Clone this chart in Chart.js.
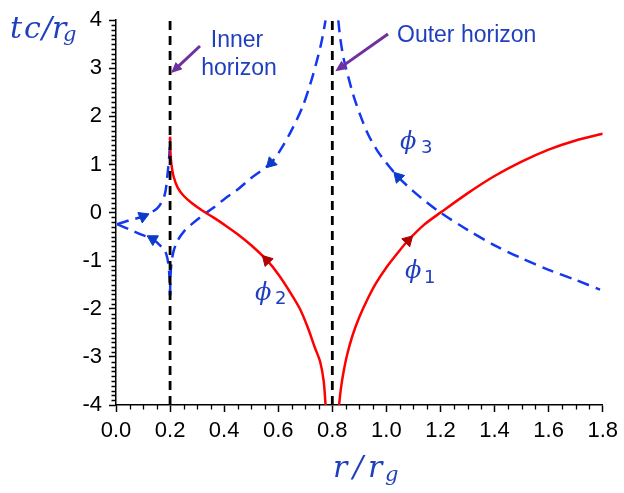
<!DOCTYPE html>
<html>
<head>
<meta charset="utf-8">
<script src="https://cdn.jsdelivr.net/npm/chart.js@4.4.0/dist/chart.umd.min.js"></script>
<style>
  html, body { margin: 0; padding: 0; background: #fff; }
</style>
</head>
<body>
<canvas id="chart" width="624" height="493"></canvas>
<script>
// tick labels
const xTicks = [0, 0.2, 0.4, 0.6, 0.8, 1.0, 1.2, 1.4, 1.6, 1.8];
const yTicks = [-4, -3, -2, -1, 0, 1, 2, 3, 4];

// horizons
const horizons = [0.2, 0.8];

// red solid curves
const phi2R = [0.2, 0.201, 0.205, 0.213, 0.228, 0.25, 0.28, 0.32, 0.36, 0.4, 0.45, 0.5, 0.558, 0.6, 0.64, 0.68, 0.71, 0.735, 0.755, 0.768, 0.775];
const phi2T = [1.58, 1.3, 1.0, 0.75, 0.52, 0.35, 0.2, 0.04, -0.1, -0.25, -0.45, -0.68, -0.99, -1.28, -1.62, -2.0, -2.4, -2.8, -3.1, -3.5, -4.0];

const phi1R = [0.825, 0.832, 0.842, 0.855, 0.875, 0.9, 0.93, 0.96, 1.0, 1.04, 1.08, 1.14, 1.2, 1.3, 1.4, 1.5, 1.6, 1.7, 1.8];
const phi1T = [-4.0, -3.65, -3.3, -2.95, -2.55, -2.17, -1.8, -1.48, -1.14, -0.85, -0.58, -0.25, 0.0, 0.4, 0.76, 1.06, 1.31, 1.5, 1.64];

// blue dashed curves
const phi3R = [0.822, 0.83, 0.842, 0.86, 0.88, 0.905, 0.933, 0.965, 1.0, 1.044, 1.1, 1.15, 1.2, 1.3, 1.4, 1.5, 1.6, 1.7, 1.79];
const phi3T = [4.0, 3.6, 3.2, 2.8, 2.4, 2.0, 1.62, 1.3, 1.03, 0.74, 0.44, 0.21, 0.0, -0.36, -0.68, -0.95, -1.19, -1.4, -1.6];

const riseR = [0.2, 0.201, 0.205, 0.213, 0.228, 0.25, 0.28, 0.32, 0.36, 0.4, 0.45, 0.5, 0.573, 0.61, 0.65, 0.69, 0.72, 0.745, 0.762, 0.775];
const riseT = [-1.72, -1.4, -1.05, -0.8, -0.58, -0.4, -0.24, -0.06, 0.1, 0.28, 0.48, 0.72, 1.03, 1.32, 1.72, 2.2, 2.7, 3.2, 3.6, 4.0];

const upperR = [0.004, 0.05, 0.1, 0.154, 0.18, 0.19, 0.197, 0.2];
const upperT = [-0.24, -0.16, -0.08, 0.10, 0.37, 0.77, 1.18, 1.55];

const lowerR = [0.004, 0.05, 0.1, 0.136, 0.18, 0.19, 0.196, 0.199, 0.2];
const lowerT = [-0.24, -0.35, -0.47, -0.55, -0.79, -0.95, -1.2, -1.5, -1.72];

// direction arrows on the curves
const blueArrowR = [0.1, 0.136, 0.573, 1.044];
const blueArrowT = [-0.08, -0.55, 1.03, 0.74];
const blueArrowRot = [67, 300, 225, 317];
const redArrowR = [0.558, 1.08];
const redArrowT = [-0.99, -0.58];
const redArrowRot = [316, 45];

const zip = (xs, ys) => xs.map((x, i) => ({x: x, y: ys[i]}));

const BLUE = '#1437f2';
const TEXTBLUE = '#1f3fbf';
const RED = '#ff0000';

function curve(xs, ys, color, dash) {
  return {
    data: zip(xs, ys),
    borderColor: color,
    borderWidth: 2.5,
    borderDash: dash || [],
    pointRadius: 0,
    fill: false,
    tension: 0.3,
    showLine: true
  };
}

const extras = {
  id: 'extras',
  afterDraw(chart) {
    const ctx = chart.ctx;
    const x = chart.scales.x, y = chart.scales.y;
    ctx.save();

    // minor ticks
    ctx.strokeStyle = '#000';
    ctx.lineWidth = 1.3;
    ctx.beginPath();
    for (let i = 1; i < 36; i++) {
      if (i % 4 === 0) continue;
      const px = Math.round(x.getPixelForValue(i * 0.05)) + 0.5;
      ctx.moveTo(px, y.bottom);
      ctx.lineTo(px, y.bottom + 4.5);
    }
    for (let i = -39; i < 40; i++) {
      if (i % 10 === 0) continue;
      const py = Math.round(y.getPixelForValue(i / 10)) + 0.5;
      ctx.moveTo(x.left - 4.5, py);
      ctx.lineTo(x.left, py);
    }
    ctx.stroke();

    // purple pointer arrows
    function pointer(x0, y0, x1, y1) {
      const a = Math.atan2(y1 - y0, x1 - x0);
      const L = 11, W = 5;
      ctx.strokeStyle = '#7030a0';
      ctx.fillStyle = '#7030a0';
      ctx.lineWidth = 3;
      ctx.beginPath();
      ctx.moveTo(x0, y0);
      ctx.lineTo(x1 - L * 0.8 * Math.cos(a), y1 - L * 0.8 * Math.sin(a));
      ctx.stroke();
      ctx.beginPath();
      ctx.moveTo(x1, y1);
      ctx.lineTo(x1 - L * Math.cos(a) + W * Math.sin(a), y1 - L * Math.sin(a) - W * Math.cos(a));
      ctx.lineTo(x1 - L * Math.cos(a) - W * Math.sin(a), y1 - L * Math.sin(a) + W * Math.cos(a));
      ctx.closePath();
      ctx.fill();
    }
    pointer(200, 46, x.getPixelForValue(0.2) + 1, y.getPixelForValue(2.9));
    pointer(388, 34, x.getPixelForValue(0.8) + 3, y.getPixelForValue(2.94));

    // horizon labels
    ctx.fillStyle = TEXTBLUE;
    ctx.font = '23px "Liberation Sans", Arial, sans-serif';
    ctx.textBaseline = 'alphabetic';
    ctx.textAlign = 'center';
    ctx.fillText('Inner', 237, 47);
    ctx.fillText('horizon', 239, 75);
    ctx.textAlign = 'left';
    ctx.fillText('Outer horizon', 397, 42);

    // math labels
    function put(txt, px, py, font) {
      ctx.font = font;
      ctx.fillText(txt, px, py);
    }
    const it = 'italic 30px "DejaVu Serif", serif';
    const sub = 'italic 21px "DejaVu Serif", serif';
    const phiF = 'italic 24px "DejaVu Serif", serif';
    const dig = '18px "DejaVu Sans", sans-serif';

    // y title tc/r_g
    put('t', 10, 38, it);
    put('c', 24, 38, it);
    put('/', 42, 38, it);
    put('r', 52, 38, it);
    put('g', 63, 41, sub);

    // x title r/r_g
    put('r', 333, 477, it);
    put('/', 353, 477, it);
    put('r', 368, 477, it);
    put('g', 385, 481, sub);

    // phi labels
    put('\u03D5', 400, 149, phiF); put('3', 421, 153, dig);
    put('\u03D5', 255, 300, phiF); put('2', 275, 304, dig);
    put('\u03D5', 405, 278, phiF); put('1', 424, 283, dig);

    ctx.restore();
  }
};

const tickFont = {family: '"Liberation Sans", Arial, sans-serif', size: 22};

new Chart(document.getElementById('chart'), {
  type: 'line',
  data: {
    datasets: [
      {
        data: zip(blueArrowR, blueArrowT),
        showLine: false,
        pointStyle: 'triangle',
        pointRadius: 6.5,
        pointRotation: blueArrowRot,
        pointBackgroundColor: '#0a3cc8',
        pointBorderColor: '#0a3cc8',
        pointBorderWidth: 1
      },
      {
        data: zip(redArrowR, redArrowT),
        showLine: false,
        pointStyle: 'triangle',
        pointRadius: 6.5,
        pointRotation: redArrowRot,
        pointBackgroundColor: '#b00000',
        pointBorderColor: '#b00000',
        pointBorderWidth: 1
      },
      Object.assign(curve([horizons[0], horizons[0]], [-4, 4], '#000', [9, 6]), {tension: 0, borderWidth: 2.8}),
      Object.assign(curve([horizons[1], horizons[1]], [-4, 4], '#000', [9, 6]), {tension: 0, borderWidth: 2.8}),
      curve(phi2R, phi2T, RED),
      curve(phi1R, phi1T, RED),
      curve(phi3R, phi3T, BLUE, [12, 7]),
      curve(riseR, riseT, BLUE, [12, 7]),
      curve(upperR, upperT, BLUE, [12, 7]),
      curve(lowerR, lowerT, BLUE, [12, 7])
    ]
  },
  options: {
    responsive: false,
    animation: false,
    devicePixelRatio: 1,
    layout: {padding: {top: 10, right: 18, left: 0, bottom: 0}},
    plugins: {legend: {display: false}, tooltip: {enabled: false}},
    scales: {
      x: {
        type: 'linear',
        min: 0,
        max: 1.8,
        afterBuildTicks: s => { s.ticks = xTicks.map(v => ({value: v})); },
        afterFit: s => { s.height = 88; },
        ticks: {
          callback: v => v.toFixed(1),
          font: tickFont,
          color: '#000',
          padding: 6,
          maxRotation: 0,
          autoSkip: false
        },
        grid: {drawOnChartArea: false, drawTicks: true, tickLength: 7, tickColor: '#000', tickWidth: 1.5},
        border: {display: true, color: '#000', width: 1.5}
      },
      y: {
        type: 'linear',
        min: -4,
        max: 4,
        afterBuildTicks: s => { s.ticks = yTicks.map(v => ({value: v})); },
        afterFit: s => { s.width = 116; },
        ticks: {
          callback: v => String(v),
          font: tickFont,
          color: '#000',
          padding: 7,
          autoSkip: false
        },
        grid: {drawOnChartArea: false, drawTicks: true, tickLength: 7, tickColor: '#000', tickWidth: 1.5},
        border: {display: true, color: '#000', width: 1.5}
      }
    }
  },
  plugins: [extras]
});
</script>
</body>
</html>
